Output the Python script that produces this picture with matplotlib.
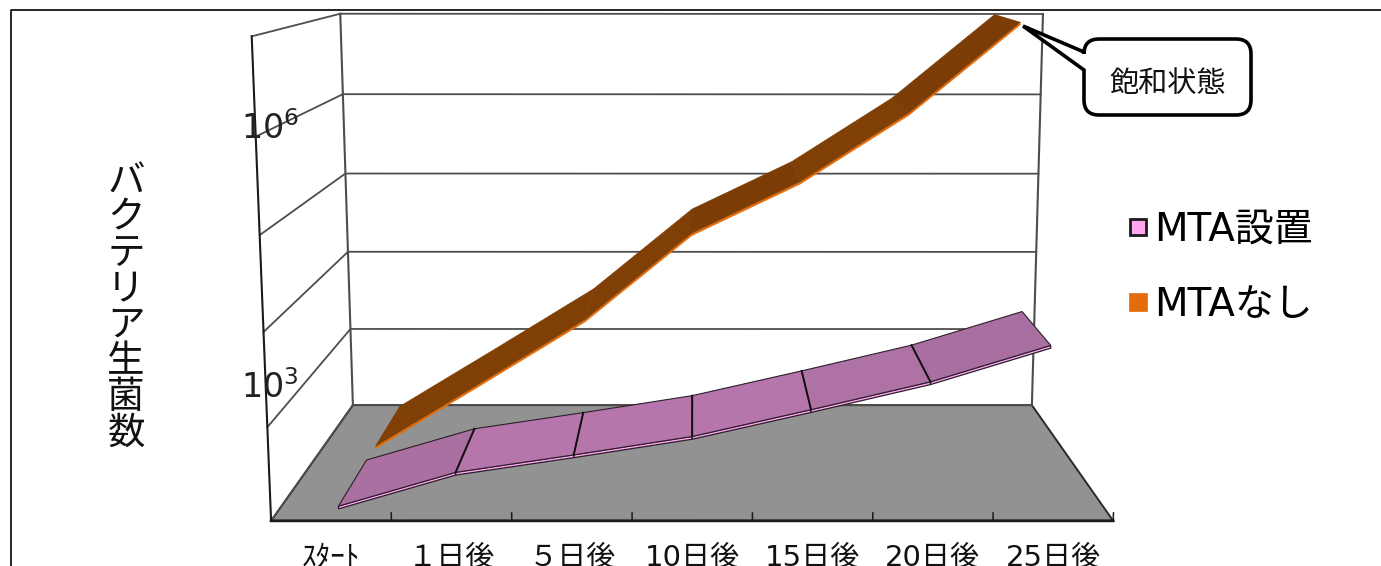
import numpy as np
import matplotlib
matplotlib.use("Agg")
import matplotlib.pyplot as plt
from matplotlib.lines import Line2D
from matplotlib.patches import PathPatch, Polygon
from matplotlib.path import Path

plt.rcParams["font.family"] = ["DejaVu Sans", "Noto Sans CJK JP"]
plt.rcParams["mathtext.default"] = "regular"

categories = ["ｽﾀｰﾄ", "１日後", "５日後", "10日後", "15日後", "20日後", "25日後"]
# log10 of the viable bacteria count
log_count_mta = [2.03, 2.40, 2.59, 2.79, 3.08, 3.38, 3.77]
log_count_none = [2.02, 2.78, 3.55, 4.57, 5.17, 5.97, 7.00]
log_floor = 2
log_ceiling = 7
labelled_ticks = [3, 6]
title_y = "バクテリア生菌数"

PURPLE_SHADES = ["#aa70a1", "#b676ac", "#b676ac", "#b676ac", "#ae72a5", "#a96fa0"]
BROWN_SHADES = ["#7f3f05", "#7f3f05", "#7f3f05", "#7b3d05", "#7f3f05", "#7b3d05"]


def fit_camera():
    """Least squares 3x4 perspective matrix from the box corners on the page."""
    world = [(0, 0, 0), (1, 0, 0), (0, 0, 1), (1, 0, 1), (0, 1, 1), (1, 1, 1), (0, 1, 0)]
    page = [(271, 521), (1113, 521), (353, 405), (1032, 405), (340, 14), (1043, 14), (252, 36)]
    rows, rhs = [], []
    for (x, y, z), (u, v) in zip(world, page):
        rows.append([x, y, z, 1, 0, 0, 0, 0, -u * x, -u * y, -u * z])
        rows.append([0, 0, 0, 0, x, y, z, 1, -v * x, -v * y, -v * z])
        rhs += [u, v]
    sol = np.linalg.lstsq(np.array(rows, float), np.array(rhs, float), rcond=None)[0]
    return np.append(sol, 1).reshape(3, 4)


CAM = fit_camera()


def project(cat, log_value, depth):
    """cat in category units (0..7), log_value on the count axis, depth 0 front to 1 back."""
    height = (log_value - log_floor) / (log_ceiling - log_floor)
    p = CAM @ np.array([cat / len(categories), height, depth, 1.0])
    return p[0] / p[2], p[1] / p[2]


def ribbon(ax, values, near, far, shades, edge_color, side_color, thick):
    n = len(values)
    for i in range(n - 1):
        a, b = i + 0.5, i + 1.5
        side = [project(a, values[i], near), project(b, values[i + 1], near),
                project(b, values[i + 1] - thick, near), project(a, values[i] - thick, near)]
        ax.add_patch(Polygon(side, closed=True, fc=side_color, ec=edge_color or side_color,
                             lw=0.9 if edge_color else 0.3, zorder=4))
        top = [project(a, values[i], near), project(b, values[i + 1], near),
               project(b, values[i + 1], far), project(a, values[i], far)]
        ax.add_patch(Polygon(top, closed=True, fc=shades[i], ec=edge_color or shades[i],
                             lw=0.8 if edge_color else 0.4, zorder=5))
    if edge_color:
        for i in range(1, n - 1):
            line = np.array([project(i + 0.5, values[i], near), project(i + 0.5, values[i], far)])
            ax.plot(line[:, 0], line[:, 1], color="#151015", lw=1.4, zorder=6)


fig = plt.figure(figsize=(13.81, 5.66), dpi=100)
ax = fig.add_axes([0, 0, 1, 1])
ax.set_xlim(0, 1381)
ax.set_ylim(566, 0)
ax.axis("off")

# outer chart border, cut by the page at the bottom and right
ax.plot([11, 11, 1381], [566, 9.5, 9.5], color="black", lw=1.2, zorder=1)

n_cat = len(categories)
floor = [project(0, log_floor, 0), project(n_cat, log_floor, 0),
         project(n_cat, log_floor, 1), project(0, log_floor, 1)]
ax.add_patch(Polygon(floor, closed=True, fc="#929292", ec="#2a2a2a", lw=1.4, zorder=2))

# gridlines around the two walls
for level in range(log_floor, log_ceiling + 1):
    wall = np.array([project(0, level, 0), project(0, level, 1), project(n_cat, level, 1)])
    ax.plot(wall[:, 0], wall[:, 1], color="#4d4d4d", lw=1.3, zorder=3)
for cat, depth, col in [(0, 0, "#1a1a1a"), (0, 1, "#4d4d4d"), (n_cat, 1, "#4d4d4d")]:
    edge = np.array([project(cat, log_floor, depth), project(cat, log_ceiling, depth)])
    ax.plot(edge[:, 0], edge[:, 1], color=col, lw=1.5, zorder=3)

# front axis line with ticks pointing into the floor
front = np.array([project(0, log_floor, 0), project(n_cat, log_floor, 0)])
ax.plot(front[:, 0], front[:, 1], color="#1a1a1a", lw=2, zorder=7)
for i in range(1, n_cat + 1):
    tick = np.array([project(i, log_floor, 0), project(i, log_floor + 0.085, 0)])
    ax.plot(tick[:, 0], tick[:, 1], color="#1a1a1a", lw=1.1, zorder=3)
for i, label in enumerate(categories):
    x, _ = project(i + 0.5, log_floor, 0)
    ax.text(x, 558, label, ha="center", va="center", fontsize=21, color="#111111", zorder=8)

ribbon(ax, log_count_none, 0.58, 0.97, BROWN_SHADES, None, "#e46c0a", 0.03)
ribbon(ax, log_count_mta, 0.085, 0.45, PURPLE_SHADES, "#2b1f2a", "#ffa6f0", 0.03)

# exponent labels sit across the left wall
tick_label_y = {3: 388, 6: 129}
for tick_val in labelled_ticks:
    ax.text(270, tick_label_y[tick_val], rf"$10^{{{tick_val}}}$", ha="center", va="center",
            fontsize=24, color="#222222", zorder=8)

ax.text(126, 308, "\n".join(title_y), ha="center", va="center", fontsize=27,
        linespacing=1.0, color="#111111", zorder=8)

handles = [
    Line2D([], [], ls="none", marker="s", ms=12, mfc="#ffa6f0", mec="#1a1a1a", mew=2),
    Line2D([], [], ls="none", marker="s", ms=12.5, mfc="#e46c0a", mec="#e46c0a", mew=0.5),
]
ax.legend(handles, ["MTA設置", "MTAなし"], loc="upper left", bbox_to_anchor=(1123 / 1381, 1 - 211 / 566),
          frameon=False, fontsize=28, labelspacing=0.95, handletextpad=0.05, handlelength=0.75,
          borderpad=0, borderaxespad=0)

# speech bubble with its tail pointing at the last point
L, T, R, B, r = 1084, 39, 1251, 115, 15
verts = [(L + r, T), (R - r, T), (R, T), (R, T + r), (R, B - r), (R, B), (R - r, B), (L + r, B),
         (L, B), (L, B - r), (L, 70), (1023, 26), (L, 52), (L, T + r), (L, T), (L + r, T)]
codes = [Path.MOVETO, Path.LINETO, Path.CURVE3, Path.CURVE3, Path.LINETO, Path.CURVE3, Path.CURVE3,
         Path.LINETO, Path.CURVE3, Path.CURVE3, Path.LINETO, Path.LINETO, Path.LINETO, Path.LINETO,
         Path.CURVE3, Path.CURVE3]
ax.add_patch(PathPatch(Path(verts, codes), fc="white", ec="black", lw=2.6, joinstyle="miter", zorder=9))
ax.text((L + R) / 2, 84, "飽和状態", ha="center", va="center", fontsize=21, color="#111111", zorder=10)

fig.savefig("out.png", dpi=100)
